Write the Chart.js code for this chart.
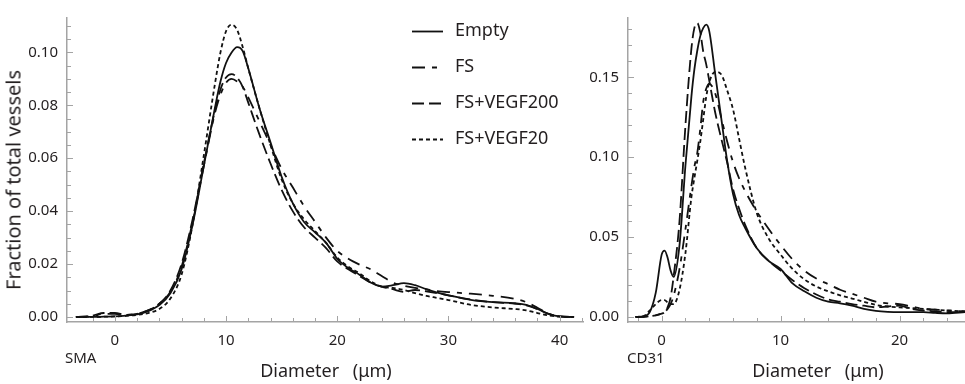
<!DOCTYPE html>
<html>
<head>
<meta charset="utf-8">
<script src="https://cdn.jsdelivr.net/npm/chart.js@4.4.1/dist/chart.umd.min.js"></script>
<style>
  body { margin: 0; background: #fff; }
  #wrap { position: relative; width: 965px; height: 384px; overflow: hidden; font-family: 'Noto Sans', sans-serif; color: #231f20; }
  canvas { position: absolute; top: 0; }
  #smaCanvas { left: 0; }
  #cd31Canvas { left: 560px; }
  .lbl { position: absolute; white-space: nowrap; transform: translate(-50%, -50%); }
  .tag { position: absolute; white-space: nowrap; transform: translateY(-50%); font-size: 15px; }
</style>
</head>
<body>
<div id="wrap">
  <canvas id="smaCanvas" width="600" height="384"></canvas>
  <canvas id="cd31Canvas" width="405" height="384"></canvas>
  <div class="lbl" style="left:13px; top:180px; font-size:20px; transform: translate(-50%,-50%) rotate(-90deg);">Fraction of total vessels</div>
  <div class="tag" style="left:65px; top:357px;">SMA</div>
  <div class="tag" style="left:627px; top:357px;">CD31</div>
  <div class="lbl" style="left:326px; top:370px; font-size:18px;">Diameter&ensp;&nbsp;(μm)</div>
  <div class="lbl" style="left:818px; top:370px; font-size:18px;">Diameter&ensp;&nbsp;(μm)</div>
</div>
<script>
// --- data: SMA panel (left) ---
const seriesNames = ['Empty', 'FS', 'FS+VEGF200', 'FS+VEGF20'];

const smaDiameter = [-3.5, -2, -1, 0, 1, 2, 3, 4, 5, 6, 7, 8, 9, 9.5, 10, 10.5, 11, 11.5, 12, 13, 14, 15, 16, 17, 18, 19, 20,
  21, 22, 23, 24, 25, 26, 27, 28, 29, 30, 32, 34, 36, 37, 38, 39, 40, 41.3];
const smaEmpty = [0, 0, 0.0001, 0.0002, 0.0005, 0.001, 0.0022, 0.0045, 0.009, 0.018, 0.035, 0.057, 0.079, 0.089, 0.096, 0.1, 0.102, 0.1005, 0.094, 0.079, 0.066, 0.053, 0.043,
  0.036, 0.032, 0.028, 0.022, 0.0185, 0.016, 0.013, 0.0115, 0.012, 0.0128, 0.012, 0.0105, 0.0092, 0.0082, 0.0065, 0.0056, 0.0052, 0.0046, 0.003, 0.0012, 0.0002, 0];
const smaFS = [0, 0.0003, 0.0012, 0.0012, 0.0008, 0.0012, 0.0025, 0.005, 0.0095, 0.019, 0.036, 0.057, 0.077, 0.084, 0.0885, 0.09, 0.089, 0.087, 0.083, 0.074, 0.065, 0.056, 0.049,
  0.042, 0.036, 0.03, 0.025, 0.022, 0.0198, 0.018, 0.0155, 0.013, 0.0118, 0.011, 0.0104, 0.0098, 0.0094, 0.0088, 0.008, 0.0068, 0.0056, 0.0035, 0.0012, 0.0002, 0];
const smaVegf200 = [0, 0.0005, 0.0015, 0.0015, 0.0008, 0.0012, 0.0025, 0.005, 0.01, 0.02, 0.037, 0.058, 0.078, 0.086, 0.0905, 0.0918, 0.0905, 0.087, 0.081, 0.069, 0.058, 0.048, 0.04,
  0.034, 0.03, 0.026, 0.021, 0.018, 0.0155, 0.013, 0.0115, 0.0105, 0.0095, 0.0102, 0.0097, 0.009, 0.0082, 0.0066, 0.0056, 0.005, 0.0044, 0.003, 0.0012, 0.0002, 0];
const smaVegf20 = [0, 0, 0.0001, 0.0002, 0.0004, 0.0008, 0.0015, 0.003, 0.007, 0.016, 0.035, 0.061, 0.088, 0.1, 0.108, 0.1105, 0.1085, 0.102, 0.094, 0.079, 0.065, 0.052, 0.043,
  0.037, 0.0325, 0.028, 0.0225, 0.019, 0.0165, 0.0135, 0.0115, 0.011, 0.0102, 0.009, 0.008, 0.0072, 0.0064, 0.0046, 0.0036, 0.003, 0.0025, 0.0015, 0.0006, 0.0001, 0];

// --- data: CD31 panel (right) ---
const cd31Diameter = [-2.2, -1.5, -1, -0.5, 0, 0.25, 0.5, 0.75, 1, 1.5, 2, 2.5, 2.75, 3, 3.25, 3.5, 3.75, 4, 4.5, 5, 5.5, 6, 6.5, 7,
  8, 9, 10, 11, 12, 13, 14, 15, 16, 17, 18, 19, 20, 21, 22, 23, 24, 25.5];
const cd31Empty = [0, 0.0005, 0.003, 0.015, 0.039, 0.0415, 0.037, 0.029, 0.025, 0.045, 0.095, 0.138, 0.155, 0.167, 0.176, 0.181, 0.183, 0.179, 0.152, 0.125, 0.098, 0.077, 0.064, 0.056,
  0.043, 0.035, 0.03, 0.021, 0.016, 0.012, 0.0095, 0.0085, 0.007, 0.005, 0.0038, 0.0032, 0.003, 0.003, 0.003, 0.0025, 0.0022, 0.003];
const cd31FS = [0, 0, 0.0005, 0.001, 0.002, 0.003, 0.005, 0.008, 0.013, 0.03, 0.055, 0.082, 0.094, 0.103, 0.118, 0.135, 0.143, 0.146, 0.14, 0.125, 0.11, 0.097, 0.087, 0.079,
  0.066, 0.055, 0.045, 0.036, 0.029, 0.024, 0.0205, 0.017, 0.0145, 0.012, 0.0095, 0.0085, 0.008, 0.0065, 0.005, 0.0045, 0.004, 0.0035];
const cd31Vegf200 = [0, 0, 0.0005, 0.001, 0.002, 0.003, 0.006, 0.012, 0.025, 0.06, 0.12, 0.168, 0.181, 0.184, 0.178, 0.166, 0.158, 0.148, 0.128, 0.112, 0.097, 0.08, 0.068, 0.058,
  0.043, 0.035, 0.029, 0.023, 0.018, 0.014, 0.011, 0.0095, 0.008, 0.007, 0.006, 0.0065, 0.007, 0.005, 0.004, 0.0035, 0.003, 0.003];
const cd31Vegf20 = [0, 0.0005, 0.004, 0.008, 0.0105, 0.0105, 0.009, 0.008, 0.008, 0.017, 0.04, 0.075, 0.087, 0.098, 0.11, 0.124, 0.138, 0.147, 0.1535, 0.152, 0.142, 0.13, 0.112, 0.094,
  0.065, 0.049, 0.039, 0.03, 0.0235, 0.019, 0.016, 0.0135, 0.0115, 0.0095, 0.0075, 0.0065, 0.006, 0.0055, 0.005, 0.0045, 0.004, 0.0035];

// --- tick values ---
const smaXTicks = [-2, 0, 2, 4, 6, 8, 10, 12, 14, 16, 18, 20, 22, 24, 26, 28, 30, 32, 34, 36, 38, 40, 42];
const smaYTicks = [0, 0.005, 0.01, 0.015, 0.02, 0.025, 0.03, 0.035, 0.04, 0.045, 0.05, 0.055, 0.06, 0.065, 0.07, 0.075, 0.08, 0.085, 0.09, 0.095, 0.1, 0.105, 0.11];
const cd31XTicks = [-2, 0, 2, 4, 6, 8, 10, 12, 14, 16, 18, 20, 22, 24];
const cd31YTicks = [0, 0.01, 0.02, 0.03, 0.04, 0.05, 0.06, 0.07, 0.08, 0.09, 0.1, 0.11, 0.12, 0.13, 0.14, 0.15, 0.16, 0.17, 0.18];

const lineStyles = [[], [13, 7, 5, 7], [12, 5], [4, 3]];
const axisGrey = '#a4a4a4';
const textColor = '#231f20';

function curve(i, xs, ys) {
    return {
        label: seriesNames[i],
        data: xs.map((x, k) => ({ x: x, y: ys[k] })),
        borderColor: '#111',
        borderWidth: 1.8,
        borderDash: lineStyles[i],
        pointRadius: 0,
        cubicInterpolationMode: 'monotone',
        fill: false
    };
}

// inward tick marks drawn from the scales
const inwardTicks = {
    id: 'inwardTicks',
    afterDraw(chart) {
        const { ctx, chartArea } = chart;
        const x = chart.scales.x, y = chart.scales.y;
        ctx.save();
        ctx.strokeStyle = axisGrey;
        ctx.lineWidth = 1;
        ctx.beginPath();
        x.ticks.forEach(t => {
            const px = Math.round(x.getPixelForValue(t.value)) + 0.5;
            ctx.moveTo(px, chartArea.bottom);
            ctx.lineTo(px, chartArea.bottom - (t.label ? 6 : 4));
        });
        y.ticks.forEach(t => {
            const py = Math.round(y.getPixelForValue(t.value)) + 0.5;
            ctx.moveTo(chartArea.left, py);
            ctx.lineTo(chartArea.left + (t.label ? 6 : 4), py);
        });
        ctx.stroke();
        ctx.restore();
    }
};

// legend in the SMA panel
const legendRows = [31, 67, 103, 139];
const panelLegend = {
    id: 'panelLegend',
    afterDraw(chart) {
        const ctx = chart.ctx;
        ctx.save();
        chart.data.datasets.forEach((ds, i) => {
            const yy = legendRows[i] + 0.5;
            ctx.strokeStyle = '#111';
            ctx.lineWidth = 1.8;
            ctx.setLineDash(ds.borderDash);
            ctx.beginPath();
            ctx.moveTo(412, yy);
            ctx.lineTo(443, yy);
            ctx.stroke();
            ctx.setLineDash([]);
            ctx.fillStyle = textColor;
            ctx.font = "18px 'Noto Sans'";
            ctx.textBaseline = 'middle';
            ctx.fillText(ds.label, 455, legendRows[i]);
        });
        ctx.restore();
    }
};

function makePanel(canvasId, xs, series, xRange, yRange, xTicks, yTicks, yLabelStep, yAxisWidth, rightPad, extraPlugins) {
    return new Chart(document.getElementById(canvasId), {
        type: 'line',
        data: { datasets: series.map((ys, i) => curve(i, xs, ys)) },
        options: {
            responsive: false,
            animation: false,
            devicePixelRatio: 1,
            layout: { padding: { left: 0, right: rightPad, top: 3, bottom: 0 } },
            plugins: { legend: { display: false }, tooltip: { enabled: false } },
            scales: {
                x: {
                    type: 'linear',
                    min: xRange[0],
                    max: xRange[1],
                    afterBuildTicks: s => { s.ticks = xTicks.map(v => ({ value: v })); },
                    afterFit: s => { s.height = 62; },
                    grid: { display: false, drawTicks: false },
                    border: { display: true, color: axisGrey, width: 1.5 },
                    ticks: {
                        autoSkip: false,
                        maxRotation: 0,
                        padding: 10,
                        color: textColor,
                        font: { family: 'Noto Sans', size: 15 },
                        callback: v => (v % 10 === 0 ? String(v) : '')
                    }
                },
                y: {
                    type: 'linear',
                    min: yRange[0],
                    max: yRange[1],
                    afterBuildTicks: s => { s.ticks = yTicks.map(v => ({ value: v })); },
                    afterFit: s => { s.width = yAxisWidth; },
                    grid: { display: false, drawTicks: false },
                    border: { display: true, color: axisGrey, width: 1.5 },
                    ticks: {
                        autoSkip: false,
                        padding: 9,
                        color: textColor,
                        font: { family: 'Noto Sans', size: 15 },
                        callback: v => (Math.round(v * 1000) % yLabelStep === 0 ? v.toFixed(2) : '')
                    }
                }
            }
        },
        plugins: [inwardTicks].concat(extraPlugins)
    });
}

makePanel('smaCanvas', smaDiameter, [smaEmpty, smaFS, smaVegf200, smaVegf20],
    [-4.3, 42.1], [-0.0019, 0.113], smaXTicks, smaYTicks, 20, 67, 17, [panelLegend]);

makePanel('cd31Canvas', cd31Diameter, [cd31Empty, cd31FS, cd31Vegf200, cd31Vegf20],
    [-2.83, 25.5], [-0.0032, 0.1872], cd31XTicks, cd31YTicks, 50, 68, 0, []);
</script>
</body>
</html>
